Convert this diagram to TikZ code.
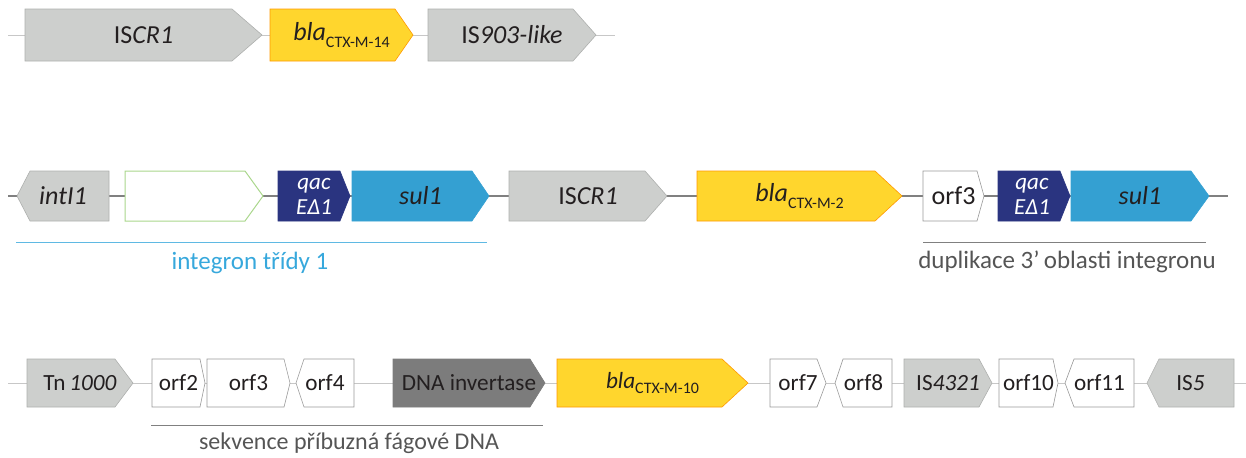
\documentclass[tikz,border=0pt]{standalone}
\usepackage{fontspec}
\setmainfont{Carlito}
\usetikzlibrary{positioning}
\definecolor{isgray}{RGB}{205,207,205}
\definecolor{blayellow}{RGB}{255,214,45}
\definecolor{qacnavy}{RGB}{42,52,128}
\definecolor{sulblue}{RGB}{52,160,210}
\definecolor{invgray}{RGB}{124,124,124}
\definecolor{cassgreen}{RGB}{170,215,140}
\definecolor{inttext}{RGB}{55,168,220}
\definecolor{inkdark}{RGB}{35,31,32}
\definecolor{notegray}{RGB}{85,85,85}

% gene pointing right: style, left, flat end, tip, name, label
\newcommand{\gR}[6]{%
  \draw[#1] (#2,\ry-\rh) -- (#3,\ry-\rh) -- (#4,\ry) -- (#3,\ry+\rh) -- (#2,\ry+\rh) -- cycle;
  \node[genetext] (#5) at ({(#2+#4)/2},\ry) {#6};}
% gene pointing left: style, tip, flat end, right, name, label
\newcommand{\gL}[6]{%
  \draw[#1] (#2,\ry) -- (#3,\ry-\rh) -- (#4,\ry-\rh) -- (#4,\ry+\rh) -- (#3,\ry+\rh) -- cycle;
  \node[genetext] (#5) at ({(#2+#4)/2},\ry) {#6};}
\newcommand{\bla}[1]{\textit{bla}\raisebox{-0.5ex}{\fontsize{8}{9}\selectfont #1}}

\tikzset{
  genetext/.style={font=\fontsize{13}{14}\selectfont, text=inkdark, inner sep=0pt, align=center},
  isbox/.style={fill=isgray, draw=isgray!85!black, line width=0.3pt},
  blabox/.style={fill=blayellow, draw=orange!80!yellow, line width=0.3pt},
  qacbox/.style={fill=qacnavy, draw=qacnavy, line width=0.3pt},
  sulbox/.style={fill=sulblue, draw=sulblue, line width=0.3pt},
  orfbox/.style={fill=white, draw=black!40, line width=0.3pt},
  cassbox/.style={fill=white, draw=cassgreen, line width=0.5pt},
  invbox/.style={fill=invgray, draw=invgray, line width=0.3pt},
  backbone/.style={draw=black!22, line width=0.5pt},
  qactext/.style={genetext, text=white, font=\fontsize{11.5}{12.5}\selectfont\itshape},
  labeltext/.style={font=\fontsize{12.5}{14}\selectfont, inner sep=0pt}
}

\begin{document}
\begin{tikzpicture}[x=0.5pt, y=-0.5pt]
\useasboundingbox (0,0) rectangle (1246,457);

%--- riadok 1 ---
\def\ry{35}\def\rh{26}
\coordinate (r1a) at (8,\ry);
\coordinate (r1b) at (615,\ry);
\draw[backbone] (r1a) -- (r1b);
\gR{isbox}{25}{232}{262}{iscrA}{IS\textit{CR1}}
\gR{blabox}{270}{395}{413}{blaA}{\bla{CTX-M-14}}
\gR{isbox}{428}{573}{596}{isA}{IS\textit{903-like}}

%--- riadok 2 ---
\def\ry{196}\def\rh{25}
\coordinate (r2a) at (8,\ry);
\coordinate (r2b) at (1228,\ry);
\draw[backbone, draw=black!50, line width=0.9pt] (r2a) -- (r2b);
\gL{isbox}{17}{30}{109}{intB}{\textit{intI1}}
\gR{cassbox}{125}{245}{263}{cassB}{}
\gR{qacbox}{278}{340}{350}{qacB}{}
\node[qactext] (qacBt) at (314,\ry) {qac\\EΔ1};
\gR{sulbox}{352}{472}{489}{sulB}{\textit{sul1}}
\gR{isbox}{509}{645}{667}{iscrB}{IS\textit{CR1}}
\gR{blabox}{697}{875}{902}{blaB}{\bla{CTX-M-2}}
\gR{orfbox}{923}{977}{984}{orfB}{orf3}
\gR{qacbox}{998}{1060}{1070}{qacC}{}
\node[qactext] (qacCt) at (1032,\ry) {qac\\EΔ1};
\gR{sulbox}{1071}{1191}{1209}{sulC}{\textit{sul1}}
% popisky
\coordinate (intA) at (16,242);
\coordinate (intZ) at (487,242);
\draw[draw=inttext!80, line width=0.5pt] (intA) -- (intZ);
\node[labeltext, text=inttext] (intlbl) at (250,263) {integron třídy 1};
\coordinate (dupA) at (923,242);
\coordinate (dupZ) at (1206,242);
\draw[draw=black!50, line width=0.5pt] (dupA) -- (dupZ);
\node[labeltext, text=notegray] (duplbl) at (1067,262) {duplikace 3\textquoteright\,oblasti integronu};

%--- riadok 3 ---
\def\ry{383}\def\rh{24}
\tikzset{genetext/.append style={font=\fontsize{11.6}{13}\selectfont}}
\coordinate (r3a) at (8,\ry);
\coordinate (r3b) at (1246,\ry);
\draw[backbone] (r3a) -- (r3b);
\gR{isbox}{27}{115}{133}{tnC}{Tn\,\textit{1000}}
\foreach \a/\b/\c/\n/\t in {152/200/205/orfii/orf2, 207/284/290/orfiii/orf3,
  770/817/826/orfvii/orf7, 999/1053/1058/orfx/orf10}{
  \gR{orfbox}{\a}{\b}{\c}{\n}{\t}
}
\foreach \a/\b/\c/\n/\t in {296/304/354/orfiv/orf4, 835/843/892/orfviii/orf8,
  1065/1074/1134/orfxi/orf11}{
  \gL{orfbox}{\a}{\b}{\c}{\n}{\t}
}
\gR{invbox}{393}{530}{545}{invC}{DNA invertase}
\gR{blabox}{557}{722}{748}{blaC}{\bla{CTX-M-10}}
\gR{isbox}{904}{979}{992}{isC}{IS\textit{4321}}
\gL{isbox}{1147}{1159}{1234}{isD}{IS\textit{5}}
% popisek
\coordinate (fagA) at (151,425);
\coordinate (fagZ) at (543,425);
\draw[draw=black!50, line width=0.5pt] (fagA) -- (fagZ);
\node[labeltext, text=notegray, font=\fontsize{12}{14}\selectfont] (faglbl) at (349,443) {sekvence příbuzná fágové DNA};
\end{tikzpicture}
\end{document}
